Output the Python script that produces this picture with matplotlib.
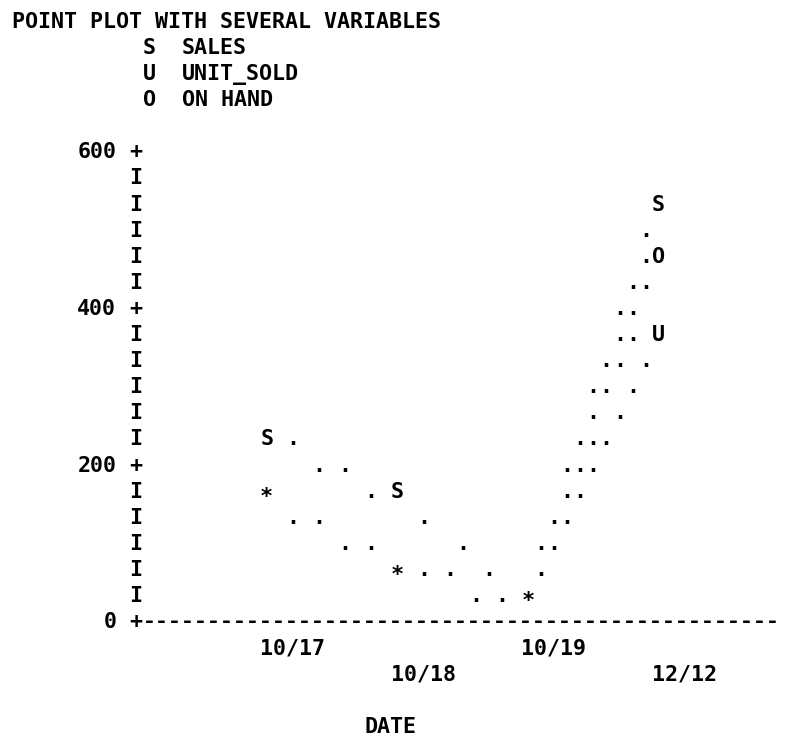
import math
import matplotlib
matplotlib.use('Agg')
import matplotlib.pyplot as plt
from matplotlib.transforms import offset_copy

# data
dates = ['10/17', '10/18', '10/19', '12/12']
sales = [233, 167, 33, 533]
unit_sold = [167, 67, 33, 367]
on_hand = [167, 67, 33, 467]
series = [sales, unit_sold, on_hand]
symbols = ['S', 'U', 'O']
names = ['SALES', 'UNIT_SOLD', 'ON HAND']
yticks = [0, 200, 400, 600]
title = 'POINT PLOT WITH SEVERAL VARIABLES'
xname = 'DATE'

# printer grid: one column = 13.06 px, one line = 26.1 px
W, H = 785, 737
CW, LH = 13.06, 26.1
X0 = 12.0            # left edge of column 0
DATE_COL = 19        # column of the first date
NCOL = 10            # columns between dates
YTOP, TOPLINE = 600, 5
STEP = 100 / 3       # value per print line
FS = 15.6            # font size (pt) giving a 13 px advance
FONT = dict(family='DejaVu Sans Mono', weight='bold', fontsize=FS, color='black')

fig = plt.figure(figsize=(W / 100, H / 100), dpi=100)
ax = fig.add_axes([0, 0, 1, 1])
ax.set_axis_off()

# axes limits so that date index / value land on the character grid
px_per_x = CW * NCOL
x_at0 = X0 + CW * (DATE_COL + 0.5)
ax.set_xlim(-x_at0 / px_per_x, (W - x_at0) / px_per_x)
px_per_v = LH / STEP
y_top = 20.0 + LH * TOPLINE  # pixel row of the 600 line
ax.set_ylim(YTOP - (H - y_top) / px_per_v, YTOP + y_top / px_per_v)


def col_x(c):
    return (c - DATE_COL) / NCOL


def line_y(l):
    return YTOP - (l - TOPLINE) * STEP


def to_row(v):
    return round((YTOP - v) / STEP)


# baseline sits half a cap height below the line centre
cap_half = 0.729 * FS * 100 / 72 / 2
tf = offset_copy(ax.transData, fig=fig, x=0, y=-cap_half, units='dots')
tf_star = offset_copy(ax.transData, fig=fig, x=0, y=-cap_half - 5, units='dots')


def put(c, l, s):
    ax.text(col_x(c) - 0.5 / NCOL, line_y(l), s, ha='left', va='baseline', transform=tf, **FONT)


# title and legend
put(0, 0, title)
for k, (sym, nm) in enumerate(zip(symbols, names)):
    put(10, 1 + k, sym)
    put(13, 1 + k, nm)

# vertical axis
nrows = to_row(0)
for r in range(nrows + 1):
    v = YTOP - r * STEP
    lab = [t for t in yticks if to_row(t) == r]
    ax.text(col_x(9), v, '+' if lab else 'I', ha='center', va='baseline', transform=tf, **FONT)
    if lab:
        s = str(lab[0])
        put(8 - len(s), TOPLINE + r, s)

# horizontal axis
put(10, TOPLINE + nrows, '-' * 49)
for i, d in enumerate(dates):
    put(DATE_COL + i * NCOL, TOPLINE + nrows + 1 + i % 2, d)
put(27, TOPLINE + nrows + 4, xname)


# connecting dots between successive dates
def connect(values):
    rows = [to_row(v) for v in values]
    cells = []
    for i in range(len(rows) - 1):
        r0, r1 = rows[i], rows[i + 1]
        d = abs(r1 - r0)
        n = d if d > 3 else 5
        for j in range(1, n):
            f = j / n
            c = math.ceil(NCOL * f - 0.5)
            cells.append((i * NCOL + c, round(r0 + (r1 - r0) * f)))
    return cells


points = {}
for sym, vals in zip(symbols, series):
    for i, v in enumerate(vals):
        points.setdefault((i * NCOL, to_row(v)), []).append(sym)

dots = set()
for vals in series:
    dots.update(connect(vals))

for (c, r) in sorted(dots):
    if (c, r) not in points:
        ax.text(c / NCOL, YTOP - r * STEP, '.', ha='center', va='baseline', transform=tf, **FONT)

for (c, r), syms in points.items():
    if len(syms) > 1:
        ax.text(c / NCOL, YTOP - r * STEP, '*', ha='center', va='baseline', transform=tf_star, **FONT)
    else:
        ax.text(c / NCOL, YTOP - r * STEP, syms[0], ha='center', va='baseline', transform=tf, **FONT)

fig.savefig('out.png', dpi=100, facecolor='white')
